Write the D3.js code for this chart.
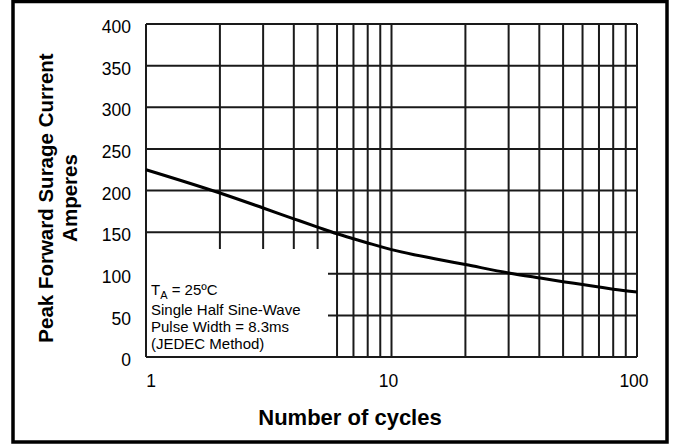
<!DOCTYPE html>
<html>
<head>
<meta charset="utf-8">
<script src="https://cdn.jsdelivr.net/npm/d3@7"></script>
<style>
    body { margin: 0; background: #fff; }
    svg { display: block; }
</style>
</head>
<body>
<div id="chart"></div>
<script>
// Data
const cycles = [1, 2, 3, 4, 5, 6, 7, 8, 10, 15, 20, 30, 40, 50, 60, 70, 80, 100];
const surgeAmps = [225, 197, 179, 166, 156, 148, 142, 137, 129, 118, 111, 101, 95, 90.5, 87, 84, 81.5, 78];
const yTicks = [0, 50, 100, 150, 200, 250, 300, 350, 400];
const xGrid = [1, 2, 3, 4, 5, 6, 7, 8, 9, 10, 20, 30, 40, 50, 60, 70, 80, 90, 100];
const xLabels = [1, 10, 100];
const noteLines = ["Single Half Sine-Wave", "Pulse Width = 8.3ms", "(JEDEC Method)"];

const width = 673;
const height = 446;
const margin = { left: 146, top: 24, right: 36, bottom: 89 };
const plotW = width - margin.left - margin.right;
const plotH = height - margin.top - margin.bottom;

const svg = d3.select("#chart").append("svg")
    .attr("width", width)
    .attr("height", height)
    .style("font-family", "Arial, 'Liberation Sans', sans-serif");

// outer frame
svg.append("rect")
    .attr("x", 13)
    .attr("y", 1.5)
    .attr("width", 654)
    .attr("height", 440.5)
    .attr("fill", "none")
    .attr("stroke", "#000")
    .attr("stroke-width", 3.5);

const g = svg.append("g")
    .attr("transform", `translate(${margin.left},${margin.top})`);

const x = d3.scaleLog().domain([1, 100]).range([0, plotW]);
const y = d3.scaleLinear().domain([0, 400]).range([plotH, 0]);

// note box area (grid is cut out there)
const boxRight = 328 - margin.left;
const boxTop = 249 - margin.top;

// vertical grid lines
g.selectAll("line.vgrid")
    .data(xGrid)
    .enter().append("line")
    .attr("class", "vgrid")
    .attr("x1", d => x(d))
    .attr("x2", d => x(d))
    .attr("y1", 0)
    .attr("y2", d => (x(d) > 0.5 && x(d) < boxRight) ? boxTop : plotH)
    .attr("stroke", "#1a1a1a")
    .attr("stroke-width", 2);

// horizontal grid lines
g.selectAll("line.hgrid")
    .data(yTicks)
    .enter().append("line")
    .attr("class", "hgrid")
    .attr("x1", d => (y(d) > boxTop && y(d) < plotH - 0.5) ? boxRight : 0)
    .attr("x2", plotW)
    .attr("y1", d => y(d))
    .attr("y2", d => y(d))
    .attr("stroke", "#1a1a1a")
    .attr("stroke-width", 2);

// left edge of plot
g.append("line")
    .attr("x1", 0).attr("x2", 0)
    .attr("y1", 0).attr("y2", plotH)
    .attr("stroke", "#1a1a1a")
    .attr("stroke-width", 2);

// y tick labels
g.selectAll("text.ylab")
    .data(yTicks)
    .enter().append("text")
    .attr("class", "ylab")
    .attr("x", -15)
    .attr("y", d => y(d) + 3)
    .attr("dy", "0.35em")
    .attr("text-anchor", "end")
    .attr("font-size", 17.5)
    .attr("fill", "#000")
    .text(d => d);

// x tick labels
g.selectAll("text.xlab")
    .data(xLabels)
    .enter().append("text")
    .attr("class", "xlab")
    .attr("x", (d, i) => x(d) + (i === 0 ? 5 : -3))
    .attr("y", plotH + 30)
    .attr("text-anchor", "middle")
    .attr("font-size", 17.5)
    .attr("fill", "#000")
    .text(d => d);

// curve
const line = d3.line()
    .x((d, i) => x(cycles[i]))
    .y(d => y(d))
    .curve(d3.curveMonotoneX);

g.append("path")
    .datum(surgeAmps)
    .attr("d", line)
    .attr("fill", "none")
    .attr("stroke", "#000")
    .attr("stroke-width", 3);

// note text
const note = g.append("g")
    .attr("transform", `translate(5,0)`)
    .attr("font-size", 15)
    .attr("fill", "#000");

const ta = note.append("text").attr("y", 295 - margin.top);
ta.append("tspan").text("T");
ta.append("tspan").attr("font-size", 11).attr("dy", 4).text("A");
ta.append("tspan").attr("dy", -4).text(" = 25ºC");

note.selectAll("text.nl")
    .data(noteLines)
    .enter().append("text")
    .attr("class", "nl")
    .attr("y", (d, i) => 315 - margin.top + i * 16.8)
    .text(d => d);

// axis titles
svg.append("text")
    .attr("x", 350)
    .attr("y", 425)
    .attr("text-anchor", "middle")
    .attr("font-size", 22)
    .attr("font-weight", "bold")
    .attr("fill", "#000")
    .text("Number of cycles");

const yTitle = svg.append("text")
    .attr("transform", "translate(53,198) rotate(-90)")
    .attr("text-anchor", "middle")
    .attr("font-size", 20.5)
    .attr("font-weight", "bold")
    .attr("fill", "#000");
yTitle.append("tspan").attr("x", 0).attr("y", 0).text("Peak Forward Surage Current");
yTitle.append("tspan").attr("x", 0).attr("y", 24).text("Amperes");
</script>
</body>
</html>
